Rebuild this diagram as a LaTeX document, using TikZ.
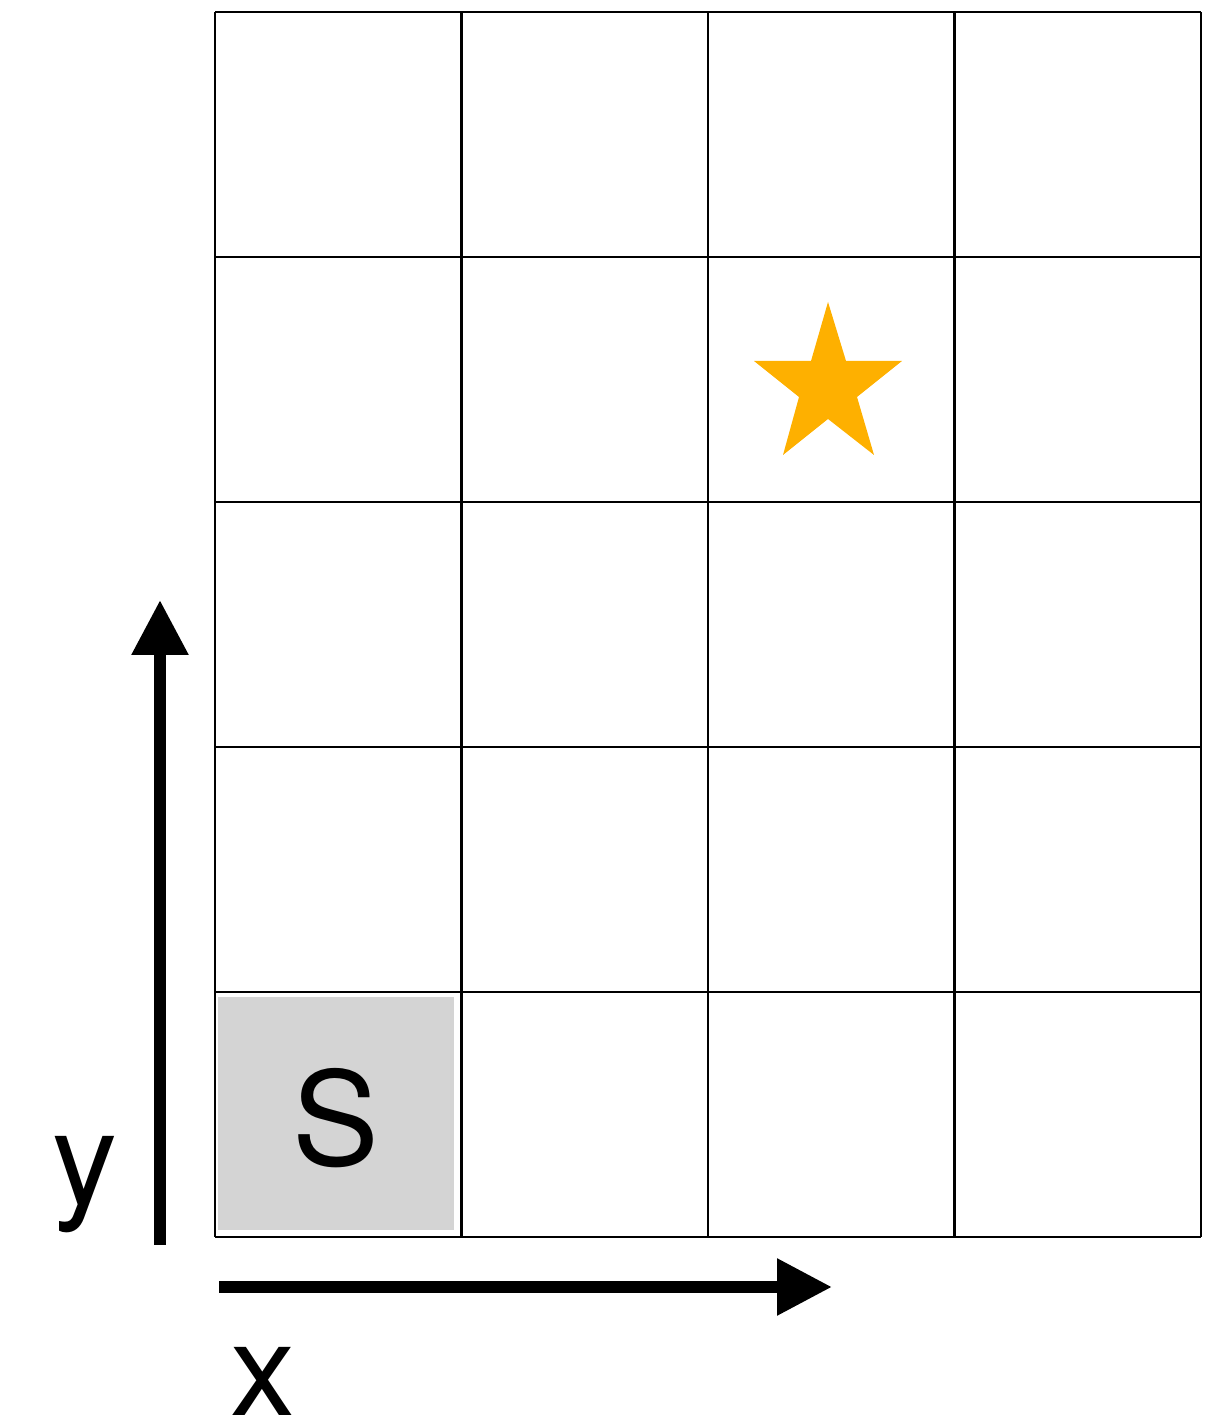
\documentclass[tikz,border=0pt]{standalone}
\usepackage{fontspec}
\setmainfont{TeX Gyre Heros}
\usepackage{tikz}
\usetikzlibrary{arrows.meta,positioning,calc}
\definecolor{cellgray}{HTML}{D4D4D4}
\definecolor{goldstar}{HTML}{FEB000}

\begin{document}
\begin{tikzpicture}[
    % --- STYLES ---
    gridline/.style={draw=black, line width=0.65pt},
    startcell/.style={
        rectangle, fill=cellgray, draw=none,
        minimum width=2.36cm, minimum height=2.33cm,
        inner sep=0pt
    },
    bigletter/.style={font=\fontsize{37}{40}\selectfont, inner sep=0pt},
    axis/.style={line width=0.12cm, -{Triangle[width=0.54cm, length=0.55cm]}}
]
\useasboundingbox (0,0) rectangle (12.2,14.24);

% ===== 1. START CELL =====
\node[startcell] (startcell) at (3.36,3.105) {};
\node[bigletter] (slabel) at (3.36,3.06) {S};

% ===== 2. GRID =====
\foreach \i in {0,...,4}
    \draw[gridline] ({2.15+2.465*\i},1.87) -- ({2.15+2.465*\i},14.12);
\foreach \j in {0,...,5}
    \draw[gridline] (2.15,{1.87+2.45*\j}) -- (12.01,{1.87+2.45*\j});

% ===== 3. GOAL STAR =====
\fill[goldstar] (8.28,11.22) -- (8.46,10.63) -- (9.02,10.63) -- (8.57,10.27)
    -- (8.74,9.69) -- (8.28,10.05) -- (7.83,9.69) -- (7.99,10.27)
    -- (7.54,10.63) -- (8.11,10.63) -- cycle;

% ===== 4. AXES =====
\coordinate (yfoot) at (1.60,1.79);
\coordinate (ytip) at (1.60,8.24);
\coordinate (xfoot) at (2.19,1.37);
\coordinate (xtip) at (8.32,1.37);

\draw[axis] (yfoot) -- (ytip);
\draw[axis] (xfoot) -- (xtip);

\node[bigletter, anchor=base] (ylabel) at (0.85,2.19) {y};
\node[bigletter, anchor=base] (xlabel) at (2.63,0.08) {x};

\end{tikzpicture}
\end{document}
